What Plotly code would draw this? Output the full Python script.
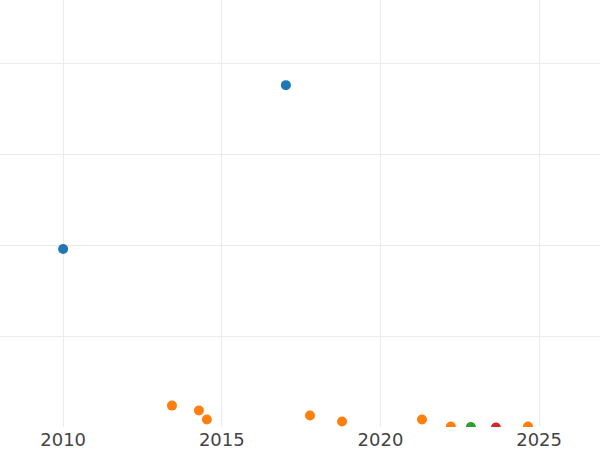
import plotly.graph_objects as go

# series data (x = year, y = value in grid units)
blue_x = [2010.0, 2017.02]
blue_y = [1.96, 3.76]
orange_x = [2013.43, 2014.28, 2014.53, 2017.78, 2018.79, 2021.31, 2022.22, 2024.65]
orange_y = [0.24, 0.187, 0.088, 0.132, 0.066, 0.088, 0.01, 0.01]
green_x = [2022.85]
green_y = [0.005]
red_x = [2023.64]
red_y = [0.0]

x_ticks = [2010, 2015, 2020, 2025]

fig = go.Figure()
for xs, ys, c in [(blue_x, blue_y, "#1f77b4"), (orange_x, orange_y, "#ff7f0e"),
                  (green_x, green_y, "#2ca02c"), (red_x, red_y, "#d62728")]:
    fig.add_trace(go.Scatter(x=xs, y=ys, mode="markers",
                             marker=dict(color=c, size=10)))

fig.update_layout(
    width=600, height=450,
    template="plotly_white",
    showlegend=False,
    margin=dict(l=0, r=0, t=0, b=23),
    plot_bgcolor="white", paper_bgcolor="white",
    font=dict(family="DejaVu Sans", size=18, color="#444"),
)
fig.update_xaxes(range=[2008.01, 2026.92], tickvals=x_ticks, showgrid=True,
                 gridcolor="#ebebeb", zeroline=False, showline=False, ticks="")
fig.update_yaxes(range=[0.005, 4.695], dtick=1, showticklabels=False, showgrid=True,
                 gridcolor="#ebebeb", zeroline=False, showline=False)

fig.write_html("out.html", config={"displayModeBar": False},
               post_script="document.body.style.margin='0';")
